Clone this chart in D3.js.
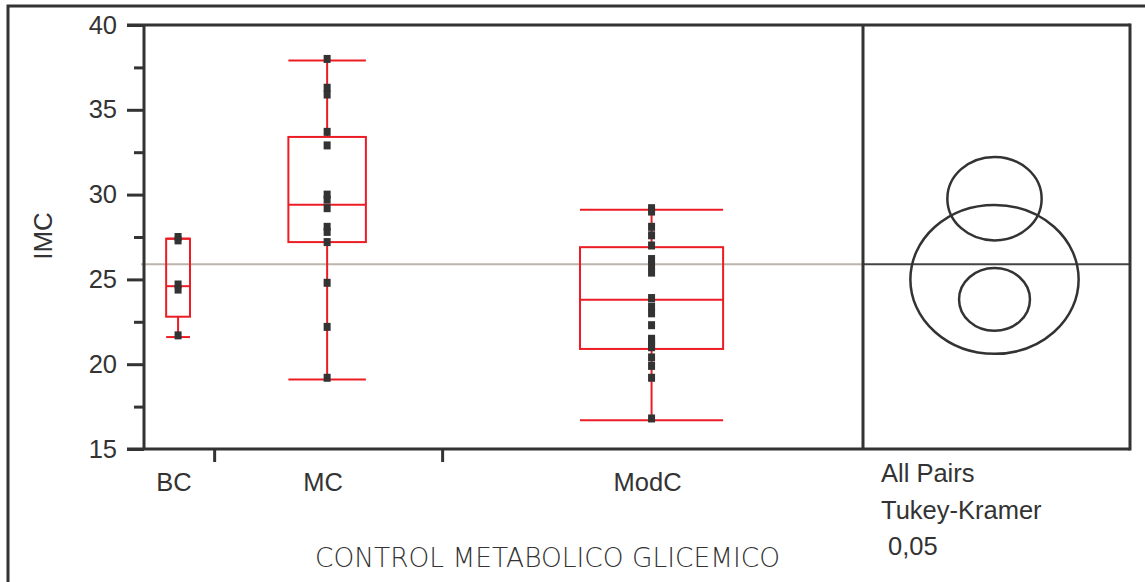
<!DOCTYPE html>
<html>
<head>
<meta charset="utf-8">
<script src="https://cdn.jsdelivr.net/npm/d3@7"></script>
<style>
  html, body { margin: 0; padding: 0; background: #fff; }
  svg { display: block; }
  text { font-family: "Liberation Sans", Arial, sans-serif; fill: #333; }
</style>
</head>
<body>
<svg id="chart" width="1145" height="582"></svg>
<script>
// groups and their weights (sample sizes set the category widths)
const groups = ["BC", "MC", "ModC"];
const groupN = [4, 13, 24];

// box stats: [lowWhisker, q1, median, q3, highWhisker]
const boxStats = [
  [21.6, 22.8, 24.6, 27.4, 27.4],
  [19.1, 27.2, 29.4, 33.4, 37.9],
  [16.7, 20.9, 23.8, 26.9, 29.1]
];

// individual observations
const pointsBC = [27.5, 27.3, 24.7, 24.4, 21.7];
const pointsMC = [38.0, 36.3, 35.9, 33.7, 32.9, 30.0, 29.7, 29.2, 28.1, 27.8, 27.2, 24.8, 22.2, 19.2];
const pointsModC = [29.2, 29.0, 28.1, 27.6, 27.0, 26.2, 25.8, 25.4, 23.9, 23.4, 23.0, 22.3,
  21.5, 21.4, 21.1, 21.0, 20.4, 19.9, 19.2, 16.8];
const groupPoints = [pointsBC, pointsMC, pointsModC];

const grandMean = 25.9;

// comparison circles (Tukey-Kramer): centre = mean, radius in IMC units
const circleMeans = [25.0, 29.76, 23.82];
const circleRadii = [4.39, 2.46, 1.85];

const yTicks = [15, 20, 25, 30, 35, 40];
const yMinorTicks = [17.5, 22.5, 27.5, 32.5, 37.5];
const compLabels = ["All Pairs", "Tukey-Kramer", " 0,05"];

const svg = d3.select("#chart");
const plotL = 144, plotR = 863, plotT = 25, plotB = 449, panelR = 1130;
const ink = "#333";
const red = "#ec1c24";

const y = d3.scaleLinear().domain([15, 40]).range([plotB, plotT]);
const cum = [0];
groupN.forEach((n, i) => cum.push(cum[i] + n));
const x = d3.scaleLinear().domain([0, cum[cum.length - 1]]).range([plotL, plotR]);

// outer frame (only top and left are visible)
svg.append("path").attr("d", "M8,582 V6 H1145").attr("fill", "none").attr("stroke", ink).attr("stroke-width", 3);

// grand mean line
svg.append("line").attr("x1", 141).attr("x2", plotR).attr("y1", y(grandMean)).attr("y2", y(grandMean))
  .attr("stroke", "#bdb4ae").attr("stroke-width", 2);
svg.append("line").attr("x1", plotR).attr("x2", panelR).attr("y1", y(grandMean)).attr("y2", y(grandMean))
  .attr("stroke", "#444").attr("stroke-width", 2);

// boxes
const g = svg.append("g");
groups.forEach((name, i) => {
  const x0 = x(cum[i]), x1 = x(cum[i + 1]);
  const cx = (x0 + x1) / 2 - 1;
  const w = (x1 - x0) * 0.34;
  const [lo, q1, med, q3, hi] = boxStats[i];
  const bg = g.append("g").attr("stroke", red).attr("stroke-width", 2).attr("fill", "none");
  bg.append("line").attr("x1", cx).attr("x2", cx).attr("y1", y(hi)).attr("y2", y(q3));
  bg.append("line").attr("x1", cx).attr("x2", cx).attr("y1", y(q1)).attr("y2", y(lo));
  bg.append("rect").attr("x", cx - w / 2).attr("y", y(q3)).attr("width", w).attr("height", y(q1) - y(q3));
  bg.append("line").attr("x1", cx - w / 2).attr("x2", cx + w / 2).attr("y1", y(med)).attr("y2", y(med));
  bg.append("line").attr("x1", cx - w / 2).attr("x2", cx + w / 2).attr("y1", y(hi)).attr("y2", y(hi));
  bg.append("line").attr("x1", cx - w / 2).attr("x2", cx + w / 2).attr("y1", y(lo)).attr("y2", y(lo));

  g.append("g").selectAll("rect").data(groupPoints[i]).join("rect")
    .attr("x", cx - 3.5).attr("y", (d) => y(d) - 4).attr("width", 7).attr("height", 8)
    .attr("fill", ink);

  svg.append("text").attr("x", cx - 4).attr("y", 491).attr("text-anchor", "middle")
    .attr("font-size", 25.5).text(name);
});

// y axis
const yAxis = svg.append("g").attr("transform", `translate(${plotL},0)`)
  .call(d3.axisLeft(y).tickValues(yTicks).tickSize(17).tickPadding(10).tickFormat(d3.format("d")));
yAxis.select(".domain").remove();
yAxis.selectAll("line").attr("stroke", ink).attr("stroke-width", 3);
yAxis.selectAll("text").attr("font-size", 25.5).attr("fill", ink).style("font-family", "Liberation Sans, Arial, sans-serif");
const yMinor = svg.append("g").attr("transform", `translate(${plotL},0)`)
  .call(d3.axisLeft(y).tickValues(yMinorTicks).tickSize(10).tickFormat(""));
yMinor.select(".domain").remove();
yMinor.selectAll("line").attr("stroke", ink).attr("stroke-width", 3);

// x boundary ticks
const xAxis = svg.append("g").attr("transform", `translate(0,${plotB})`)
  .call(d3.axisBottom(x).tickValues(cum.slice(1, -1)).tickSize(13).tickFormat(""));
xAxis.select(".domain").remove();
xAxis.selectAll("line").attr("stroke", ink).attr("stroke-width", 3);

// frame of the plot and the comparison panel
const frame = svg.append("g").attr("stroke", ink).attr("stroke-width", 3).attr("fill", "none");
frame.append("line").attr("x1", 127).attr("x2", panelR).attr("y1", plotT).attr("y2", plotT);
frame.append("line").attr("x1", 127).attr("x2", panelR).attr("y1", plotB).attr("y2", plotB);
frame.append("line").attr("x1", plotL).attr("x2", plotL).attr("y1", plotT).attr("y2", plotB);
frame.append("line").attr("x1", plotR).attr("x2", plotR).attr("y1", plotT).attr("y2", plotB);
frame.append("line").attr("x1", panelR).attr("x2", panelR).attr("y1", plotT - 1.5).attr("y2", plotB + 1.5);

// comparison circles
const pcx = (plotR + panelR) / 2 - 2;
const unit = y(15) - y(16);
svg.append("g").selectAll("ellipse").data(circleMeans).join("ellipse")
  .attr("cx", pcx).attr("cy", (d) => y(d))
  .attr("rx", (d, i) => circleRadii[i] * unit * 1.13)
  .attr("ry", (d, i) => circleRadii[i] * unit)
  .attr("fill", "none").attr("stroke", ink).attr("stroke-width", 2.5);

// labels
svg.append("text").attr("transform", "translate(52,236) rotate(-90)").attr("text-anchor", "middle")
  .attr("font-size", 26).text("IMC");
svg.append("text").attr("x", 315).attr("y", 567).attr("font-size", 27)
  .attr("textLength", 465).attr("lengthAdjust", "spacingAndGlyphs")
  .style("font-family", "DejaVu Sans, sans-serif").style("font-weight", 200).attr("fill", "#444")
  .text("CONTROL METABOLICO GLICEMICO");
svg.append("g").selectAll("text").data(compLabels).join("text")
  .attr("x", 881).attr("y", (d, i) => 482 + i * 36.5).attr("font-size", 25.5)
  .attr("xml:space", "preserve").style("white-space", "pre").text((d) => d);
</script>
</body>
</html>
